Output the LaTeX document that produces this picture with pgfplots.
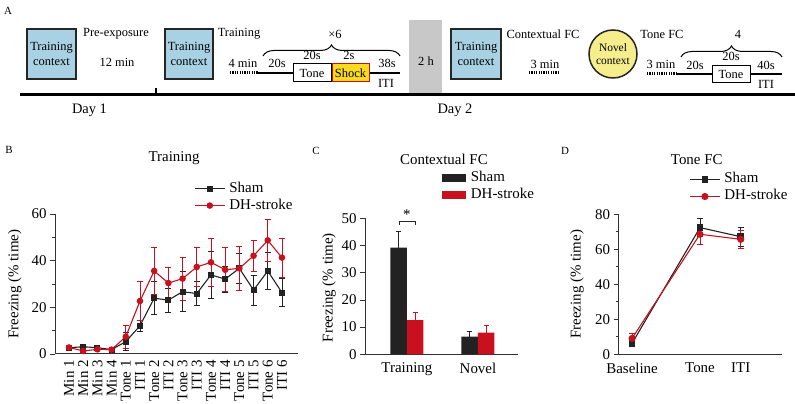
\documentclass[border=0pt]{standalone}
\usepackage{fontspec}
\setmainfont{Liberation Serif}
\usepackage{pgfplots}
\pgfplotsset{compat=1.18}
\usetikzlibrary{decorations.pathreplacing}

\definecolor{ctxblue}{RGB}{168,210,228}
\definecolor{novelyel}{RGB}{246,238,140}
\definecolor{shockyel}{RGB}{250,218,30}
\definecolor{strokered}{RGB}{200,16,30}
\definecolor{shamblk}{RGB}{34,34,34}
\definecolor{gapgray}{RGB}{200,200,200}

\newcommand{\fa}{\fontsize{12.5}{15}\selectfont}
\newcommand{\fb}{\fontsize{15}{16}\selectfont}

\pgfplotsset{
  panel/.style={
    scale only axis, clip=false,
    axis x line*=bottom, axis y line*=left,
    axis line style={line width=1bp, color=black!80},
    tick align=outside,
    x tick style={draw=none},
    y tick style={line width=0.8bp, color=black!80},
    major tick length=5bp, minor tick length=3bp,
    tick label style={font=\fb},
    label style={font=\fb},
    title style={font=\fb},
    /pgf/number format/assume math mode=true,
    ylabel={Freezing (\% time)},
    legend cell align=left,
    legend style={draw=none, fill=none, font=\fb, anchor=west,
      nodes={inner sep=1bp, text height=11bp, text depth=4bp}},
  },
  linelegend/.style={
    legend image code/.code={
      \draw[##1,mark=none] (0bp,0bp) -- (30bp,0bp);
      \draw[##1,only marks] plot coordinates {(15bp,0bp)};
      \path (33bp,0bp);
    },
  },
  errs/.style={
    error bars/y dir=both, error bars/y explicit,
    error bars/error bar style={line width=0.8bp},
    error bars/error mark options={rotate=90, mark size=3bp, line width=0.8bp}},
  sham/.style={shamblk, line width=1.1bp, mark=square*, mark size=2.5bp, errs},
  dh/.style={strokered, line width=1.1bp, mark=*, mark size=2.7bp, errs},
}

\begin{document}
\begin{tikzpicture}
\path[use as bounding box] (0,0) rectangle (795bp,404bp);

% ---------- panel A: protocol scheme ----------
\begin{scope}[x=1bp, y=-1bp, shift={(0bp,404bp)}, font=\fa]
  \node[font=\fontsize{11}{12}\selectfont] at (8,11) {A};
  \fill[gapgray] (409,20) rectangle (442,95);
  \node at (426,61) {2 h};
  % contexts
  \draw[fill=ctxblue, line width=1.8bp, draw=black!85] (27,29) rectangle (76,79);
  \node[align=center] at (51.5,54) {Training\\context};
  \draw[fill=ctxblue, line width=1.8bp, draw=black!85] (165,29) rectangle (213,79);
  \node[align=center] at (189,54) {Training\\context};
  \draw[fill=ctxblue, line width=1.8bp, draw=black!85] (451,29) rectangle (501,79);
  \node[align=center] at (476,54) {Training\\context};
  \draw[fill=novelyel, line width=1.5bp, draw=black!85] (613,54) circle (24bp);
  \node[align=center, font=\fontsize{11.5}{13}\selectfont] at (613,54) {Novel\\context};
  % labels
  \node at (116,34) {Pre-exposure};
  \node at (117,62) {12 min};
  \node at (239,34) {Training};
  \node at (543,34) {Contextual FC};
  \node at (662,34) {Tone FC};
  \node at (335,34) {×6};
  \node at (738,34) {4};
  % training sequence
  \node at (243,63) {4 min};
  \draw[line width=3bp, dash pattern=on 1.2bp off 1.2bp] (230,73) -- (258,73);
  \draw[line width=2.5bp] (258,73) -- (293,73) (369,73) -- (400,73);
  \draw[fill=white, line width=1bp] (293,64) rectangle (331,82);
  \node at (312,73) {Tone};
  \draw[fill=shockyel, draw=strokered, line width=1bp] (332,64) rectangle (369,82);
  \node at (350.5,73) {Shock};
  \node at (277,63) {20s};
  \node at (312,55) {20s};
  \node at (349,55) {2s};
  \node at (387,63) {38s};
  \node at (386,83) {ITI};
  \draw[line width=1bp, decorate, decoration={brace, amplitude=11bp}] (263,56) -- (400,56);
  % contextual FC
  \node at (545,64) {3 min};
  \draw[line width=3bp, dash pattern=on 1.2bp off 1.2bp] (529,73) -- (560,73);
  % tone FC sequence
  \node at (661,64) {3 min};
  \draw[line width=3bp, dash pattern=on 1.2bp off 1.2bp] (647,74) -- (677,74);
  \draw[line width=2.5bp] (677,74) -- (712,74) (750,74) -- (782,74);
  \draw[fill=white, line width=1bp] (712,66) rectangle (750,83);
  \node at (731,74.5) {Tone};
  \node at (695,65) {20s};
  \node at (731,56) {20s};
  \node at (766,65) {40s};
  \node at (766,84) {ITI};
  \draw[line width=1bp, decorate, decoration={brace, amplitude=11bp}] (681,57) -- (782,57);
  % time line
  \draw[line width=3bp] (20,95) -- (795,95);
  \draw[line width=2bp] (156,95) -- (156,88);
  \node[font=\fontsize{14.5}{16}\selectfont] at (89.5,110) {Day 1};
  \node[font=\fontsize{14.5}{16}\selectfont] at (455,110) {Day 2};
  % panel letters
  \node[font=\fontsize{11}{12}\selectfont] at (9,150) {B};
  \node[font=\fontsize{11}{12}\selectfont] at (316,151) {C};
  \node[font=\fontsize{11}{12}\selectfont] at (565,151) {D};
\end{scope}

% ---------- panel B: training ----------
\begin{axis}[panel, linelegend,
  at={(55bp,50bp)}, anchor=south west, width=243bp, height=140bp,
  xmin=0.014, xmax=17.13, ymin=0, ymax=60,
  ytick={0,20,40,60}, minor ytick={10,30,50},
  xtick={1,...,16},
  xticklabels={Min 1,Min 2,Min 3,Min 4,Tone 1,ITI 1,Tone 2,ITI 2,Tone 3,ITI 3,Tone 4,ITI 4,Tone 5,ITI 5,Tone 6,ITI 6},
  x tick label style={rotate=90, anchor=east, inner sep=1bp},
  title={Training}, title style={at={(axis description cs:0.49,1.357)}, anchor=center},
  ylabel style={at={(axis description cs:-0.165,0.5)}, anchor=center},
  legend style={at={(axis description cs:0.56,1.121)}},
]
\addplot[sham] coordinates {
  (1,2.7) +- (0,0.5) (2,3.1) +- (0,0.5) (3,2.7) +- (0,0.5) (4,1.9) +- (0,0.4)
  (5,5.3) +- (0,3.9) (6,12.1) +- (0,2.5) (7,23.9) +- (0,7.1) (8,23.1) +- (0,5.1)
  (9,26.7) +- (0,8.6) (10,25.9) +- (0,5.0) (11,33.9) +- (0,10.0) (12,32.1) +- (0,5.6)
  (13,36.7) +- (0,6.4) (14,27.4) +- (0,6.4) (15,35.6) +- (0,7.9) (16,26.3) +- (0,6.0)
};
\addlegendentry{Sham}
\addplot[dh] coordinates {
  (1,2.8) +- (0,0.6) (2,1.3) +- (0,0.5) (3,2.0) +- (0,0.5) (4,1.9) +- (0,0.4)
  (5,7.4) +- (0,5.0) (6,22.7) +- (0,8.2) (7,35.6) +- (0,10.0) (8,30.4) +- (0,6.9)
  (9,32.3) +- (0,9.2) (10,37.3) +- (0,8.2) (11,39.3) +- (0,10.4) (12,36.1) +- (0,9.4)
  (13,36.7) +- (0,9.6) (14,42.1) +- (0,6.7) (15,48.7) +- (0,9.1) (16,41.3) +- (0,8.4)
};
\addlegendentry{DH-stroke}
\end{axis}

% ---------- panel C: contextual FC ----------
\begin{axis}[panel,
  at={(365bp,49.7bp)}, anchor=south west, width=153bp, height=136bp,
  xmin=-0.59, xmax=1.563, ymin=0, ymax=50,
  ytick={0,10,...,50},
  ybar=0pt, bar width=16.5bp,
  xtick={0,1}, xticklabels={Training,Novel},
  title={Contextual FC}, title style={at={(axis description cs:0.516,1.39)}, anchor=center},
  ylabel style={at={(axis description cs:-0.235,0.49)}, anchor=center},
  legend image code/.code={\fill[#1] (0bp,-4bp) rectangle (24bp,4bp); \path (28bp,0bp);},
  legend style={at={(axis description cs:0.482,1.232)}},
]
\addplot[fill=shamblk, draw=none,
  error bars/y dir=plus, error bars/y explicit,
  error bars/error bar style={line width=0.8bp, shamblk},
  error bars/error mark options={rotate=90, mark size=2.5bp, line width=0.8bp, shamblk}]
  coordinates {(0,39.2) +- (0,5.9) (1,6.5) +- (0,2.1)};
\addlegendentry{Sham}
\addplot[fill=strokered, draw=none,
  error bars/y dir=plus, error bars/y explicit,
  error bars/error bar style={line width=0.8bp, strokered},
  error bars/error mark options={rotate=90, mark size=2.5bp, line width=0.8bp, strokered}]
  coordinates {(0,12.6) +- (0,2.8) (1,8.0) +- (0,2.5)};
\addlegendentry{DH-stroke}
\draw[line width=0.8bp, black!85] (axis cs:-0.113,47.6) -- (axis cs:-0.113,48.7)
  -- (axis cs:0.113,48.7) -- (axis cs:0.113,47.6);
\node[font=\fb] at (axis cs:0,51.5) {*};
\end{axis}

% ---------- panel D: tone FC ----------
\begin{axis}[panel, linelegend,
  at={(618.5bp,49.7bp)}, anchor=south west, width=163bp, height=140bp,
  xmin=0.8, xmax=3.2, ymin=0, ymax=80,
  ytick={0,20,...,80}, minor ytick={10,30,50,70},
  xtick={1,2,2.6}, xticklabels={Baseline,Tone,ITI},
  title={Tone FC}, title style={at={(axis description cs:0.48,1.35)}, anchor=center},
  ylabel style={at={(axis description cs:-0.255,0.5)}, anchor=center},
  legend style={at={(axis description cs:0.415,1.188)}},
]
\addplot[sham, mark size=2.8bp] coordinates {
  (1,6.3) +- (0,1.6) (2,72.4) +- (0,5.3) (2.6,67.2) +- (0,5.5)
};
\addlegendentry{Sham}
\addplot[dh, mark size=3bp] coordinates {
  (1,9.1) +- (0,3.0) (2,68.6) +- (0,5.7) (2.6,65.7) +- (0,5.1)
};
\addlegendentry{DH-stroke}
\end{axis}
\end{tikzpicture}
\end{document}
